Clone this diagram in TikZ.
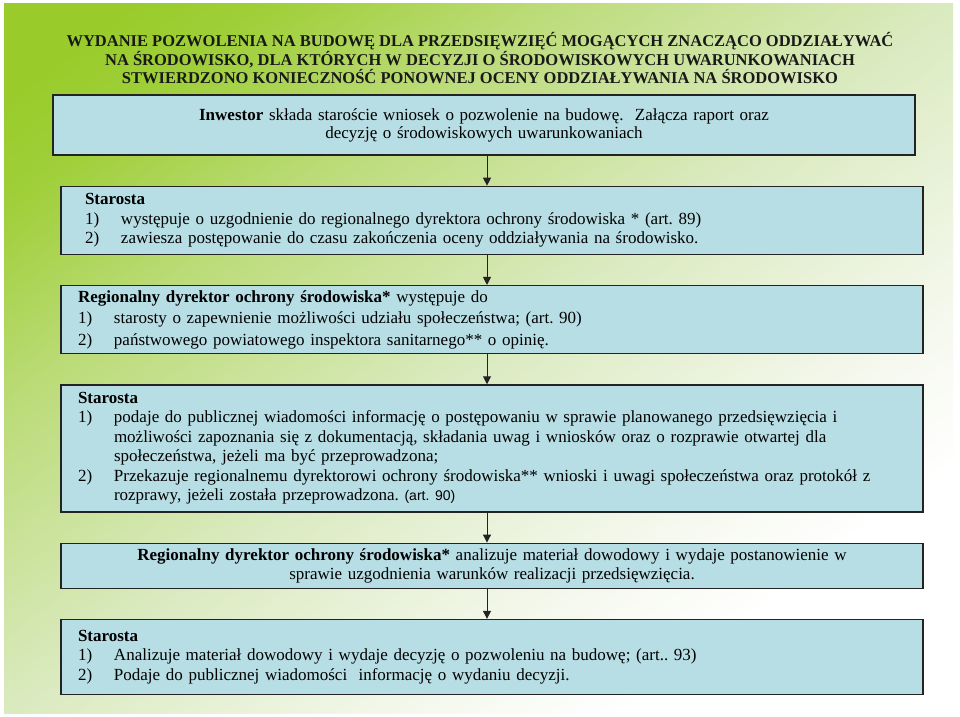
\documentclass[tikz,border=0pt]{standalone}
\usepackage{fontspec}
\setmainfont{Liberation Serif}
\setsansfont{Liberation Sans}
\usetikzlibrary{arrows.meta, positioning}
\frenchspacing

\definecolor{boxfill}{RGB}{184,222,229}
\definecolor{boxline}{RGB}{35,35,35}
\definecolor{titlecol}{RGB}{25,25,25}

\pgfdeclarehorizontalshading{tlo}{100bp}{
  rgb(0bp)=(0.600,0.800,0.170);
  rgb(20bp)=(0.600,0.800,0.170);
  rgb(25bp)=(0.625,0.812,0.225);
  rgb(35bp)=(0.735,0.860,0.470);
  rgb(50bp)=(0.855,0.918,0.750);
  rgb(65bp)=(0.960,0.973,0.930);
  rgb(73bp)=(1,1,1);
  rgb(100bp)=(1,1,1)}

\newcommand{\nr}[1]{\makebox[36pt][l]{#1}}
\newcommand{\dalej}{\hspace*{36pt}}

\begin{document}
\begin{tikzpicture}[
  x=1pt, y=-1pt,
  node distance=30pt,
  >={Triangle[width=8pt,length=8pt]},
  box/.style={draw=boxline, line width=1.3pt, fill=boxfill, minimum width=862pt, inner ysep=2pt, font=\fontsize{17}{19.5}\selectfont},
  listbox/.style={box, align=left, inner xsep=17pt, text width=828pt},
  centerbox/.style={box, align=center, inner xsep=10pt, text width=842pt},
  arrow/.style={->, line width=1pt, draw=boxline}
]
\useasboundingbox (0,0) rectangle (960,716);
\fill[white] (0,0) rectangle (960,716);
\shade[shading=tlo, shading angle=-53] (4,3) rectangle (953,713);

% tytul
\node[font=\bfseries\fontsize{16.5}{16.5}\selectfont, text=titlecol, align=center] (title) at (480,58)
  {WYDANIE POZWOLENIA NA BUDOWĘ DLA PRZEDSIĘWZIĘĆ MOGĄCYCH ZNACZĄCO ODDZIAŁYWAĆ\\
   NA ŚRODOWISKO, DLA KTÓRYCH W DECYZJI O ŚRODOWISKOWYCH UWARUNKOWANIACH\\
   STWIERDZONO KONIECZNOŚĆ PONOWNEJ OCENY ODDZIAŁYWANIA NA ŚRODOWISKO};

\node[centerbox, minimum height=60pt, font=\fontsize{17}{18}\selectfont] (inwestor) at (484,125)
  {\textbf{Inwestor} składa staroście wniosek o pozwolenie na budowę.\ \ Załącza raport oraz\\
   decyzję o środowiskowych uwarunkowaniach};

\node[listbox, inner xsep=24pt, text width=814pt, minimum height=68pt, below=of inwestor, xshift=8pt] (starosta1)
  {\textbf{Starosta}\\
   \nr{1)}występuje o uzgodnienie do regionalnego dyrektora ochrony środowiska * (art. 89)\\
   \nr{2)}zawiesza postępowanie do czasu zakończenia oceny oddziaływania na środowisko.};

\node[listbox, minimum height=68pt, below=of starosta1, font=\fontsize{17}{21.5}\selectfont] (rdos1)
  {\textbf{Regionalny dyrektor ochrony środowiska*} występuje do\\
   \nr{1)}starosty o zapewnienie możliwości udziału społeczeństwa; (art. 90)\\
   \nr{2)}państwowego powiatowego inspektora sanitarnego** o opinię.};

\node[listbox, minimum height=127pt, below=of rdos1] (starosta2)
  {\textbf{Starosta}\\
   \nr{1)}podaje do publicznej wiadomości informację o postępowaniu w sprawie planowanego przedsięwzięcia i\\
   \dalej możliwości zapoznania się z dokumentacją, składania uwag i wniosków oraz o rozprawie otwartej dla\\
   \dalej społeczeństwa, jeżeli ma być przeprowadzona;\\
   \nr{2)}Przekazuje regionalnemu dyrektorowi ochrony środowiska** wnioski i uwagi społeczeństwa oraz protokół z\\
   \dalej rozprawy, jeżeli została przeprowadzona. {\sffamily\fontsize{14}{19.5}\selectfont (art. 90)}};

\node[centerbox, minimum height=45pt, below=of starosta2] (rdos2)
  {\textbf{Regionalny dyrektor ochrony środowiska*} analizuje materiał dowodowy i wydaje postanowienie w\\
   sprawie uzgodnienia warunków realizacji przedsięwzięcia.};

\node[listbox, minimum height=75pt, below=of rdos2] (starosta3)
  {\textbf{Starosta}\\
   \nr{1)}Analizuje materiał dowodowy i wydaje decyzję o pozwoleniu na budowę; (art.. 93)\\
   \nr{2)}Podaje do publicznej wiadomości\ \ informację o wydaniu decyzji.};

% strzalki
\coordinate (ax) at (487,0);
\draw[arrow] (inwestor.south -| ax) -- (starosta1.north -| ax);
\draw[arrow] (starosta1.south -| ax) -- (rdos1.north -| ax);
\draw[arrow] (rdos1.south -| ax) -- (starosta2.north -| ax);
\draw[arrow] (starosta2.south -| ax) -- (rdos2.north -| ax);
\draw[arrow] (rdos2.south -| ax) -- (starosta3.north -| ax);

\end{tikzpicture}
\end{document}
